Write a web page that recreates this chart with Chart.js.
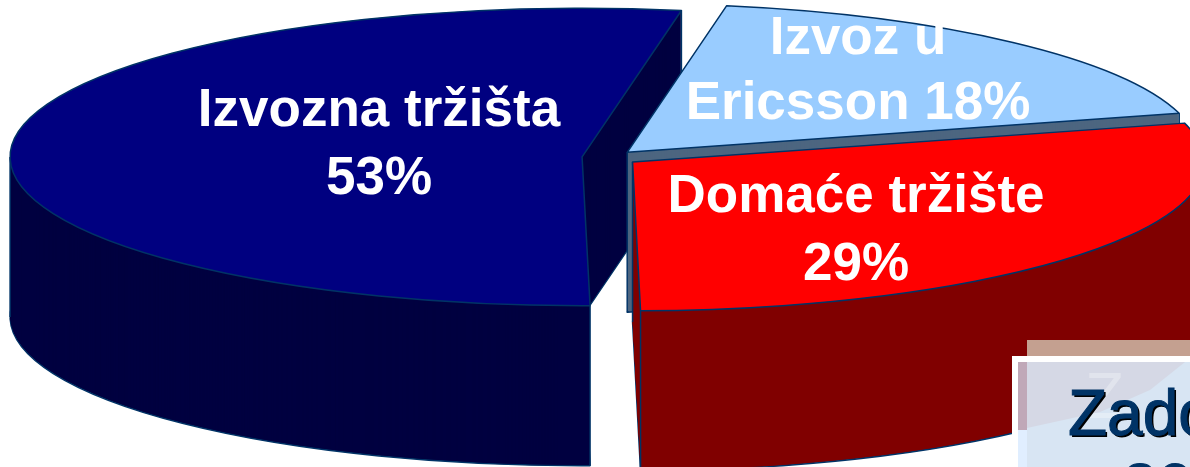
<!DOCTYPE html>
<html><head><meta charset="utf-8">
<style>html,body{margin:0;padding:0;background:#fff;overflow:hidden}#w{position:relative;width:1190px;height:467px}</style>
<script src="https://cdn.jsdelivr.net/npm/chart.js@4"></script></head>
<body><div id="w"><canvas id="c" width="1190" height="467"></canvas></div>
<script>
const categories = ['Izvoz u Ericsson', 'Domaće tržište', 'Izvozna tržišta'];
const shares = [18, 29, 53];
const sliceColors = ['#99CCFF', '#FF0000', '#000080'];
const wallColors = ['#4D6680', '#800000', '#000040'];
const labelLines = [['Izvoz u', 'Ericsson 18%'], ['Domaće tržište', '29%'], ['Izvozna tržišta', '53%']];
const labelSpots = [[858, 54, 119], [856, 212, 280], [379, 126, 194]];
const explode = [27, 29.5, 27];
const paintOrder = [2, 0, 1];
const tipEdge = [true, true, false];
const startEdge = [false, false, true];
const endEdge = [true, true, true];
const FLAT = 0.26, DEPTH = 160, EDGE = '#003366';

function sector(ctx, tx, ty, r, a0, a1) {
  ctx.beginPath();
  ctx.moveTo(tx, ty);
  ctx.ellipse(tx, ty, r, r * FLAT, 0, a0, a1);
  ctx.closePath();
}
const pie3d = {
  id: 'pie3d',
  beforeDatasetDraw(chart) {
    const ctx = chart.ctx, arcs = chart.getDatasetMeta(0).data;
    paintOrder.forEach(i => {
      const p = arcs[i].getProps(['x', 'y', 'startAngle', 'endAngle', 'outerRadius'], true);
      const mid = (p.startAngle + p.endAngle) / 2;
      const tx = p.x + Math.cos(mid) * explode[i], ty = p.y + Math.sin(mid) * explode[i] * FLAT;
      const r = p.outerRadius;
      ctx.save();
      ctx.strokeStyle = EDGE; ctx.lineWidth = 1.5; ctx.lineJoin = 'round';
      ctx.fillStyle = wallColors[i];
      sector(ctx, tx, ty + DEPTH, r, p.startAngle, p.endAngle); ctx.fill(); ctx.stroke();
      for (let d = DEPTH - 1; d > 0; d--) { sector(ctx, tx, ty + d, r, p.startAngle, p.endAngle); ctx.fill(); }
      const sx = tx + Math.cos(p.startAngle) * r, sy = ty + Math.sin(p.startAngle) * r * FLAT;
      const ex = tx + Math.cos(p.endAngle) * r, ey = ty + Math.sin(p.endAngle) * r * FLAT;
      ctx.beginPath();
      if (tipEdge[i]) { ctx.moveTo(tx, ty); ctx.lineTo(tx, ty + DEPTH); }
      if (startEdge[i]) { ctx.moveTo(sx, sy); ctx.lineTo(sx, sy + DEPTH); }
      if (endEdge[i]) { ctx.moveTo(ex, ey); ctx.lineTo(ex, ey + DEPTH); }
      if (i === 2) { ctx.moveTo(tx - r, ty); ctx.lineTo(tx - r, ty + DEPTH); }
      ctx.stroke();
      ctx.fillStyle = sliceColors[i];
      sector(ctx, tx, ty, r, p.startAngle, p.endAngle); ctx.fill(); ctx.stroke();
      ctx.restore();
    });
    return false;
  },
  afterDraw(chart) {
    const ctx = chart.ctx;
    ctx.save();
    ctx.textAlign = 'center'; ctx.textBaseline = 'alphabetic';
    ctx.fillStyle = '#fff'; ctx.font = 'bold 53px "Liberation Sans"';
    labelLines.forEach((ls, i) => {
      ls.forEach((t, k) => ctx.fillText(t, labelSpots[i][0], labelSpots[i][1 + k]));
    });
    // overlaid text box, cut off by the page edge
    ctx.fillStyle = '#C4A090'; ctx.fillRect(1027, 340, 163, 16);
    ctx.fillStyle = '#D5D8E5'; ctx.fillRect(1018, 362, 172, 105);
    ctx.fillStyle = '#C0A8B8'; ctx.fillRect(1018, 362, 9, 68);
    ctx.fillStyle = '#E0EEFF'; ctx.fillRect(1018, 430, 9, 37);
    ctx.fillStyle = '#D8E5F3';
    ctx.beginPath(); ctx.moveTo(1027, 428); ctx.lineTo(1100, 412); ctx.lineTo(1150, 390); ctx.lineTo(1190, 358); ctx.lineTo(1190, 467); ctx.lineTo(1027, 467); ctx.closePath(); ctx.fill();
    ctx.fillStyle = '#fff';
    ctx.fillRect(1012, 356, 178, 6); ctx.fillRect(1012, 356, 6, 111);
    ctx.textAlign = 'left'; ctx.font = '64px "Liberation Sans"';
    ctx.fillStyle = 'rgba(255,255,255,0.3)'; ctx.fillText('Z', 1085, 418);
    ctx.lineWidth = 1;
    [['Zadovoljni', 1068, 435], ['20', 1122, 509]].forEach(t => {
      ctx.fillStyle = '#000'; ctx.fillText(t[0], t[1] + 2, t[2] + 2);
      ctx.fillStyle = '#003366'; ctx.strokeStyle = '#003366';
      ctx.fillText(t[0], t[1], t[2]); ctx.strokeText(t[0], t[1], t[2]);
    });
    ctx.restore();
  }
};
new Chart(document.getElementById('c'), {
  type: 'pie',
  data: { labels: categories, datasets: [{ data: shares, backgroundColor: sliceColors, borderWidth: 0 }] },
  plugins: [pie3d],
  options: {
    responsive: false, animation: false, rotation: 10, radius: 572,
    layout: { padding: { left: 28, right: 0, top: 0, bottom: 152 } },
    plugins: { legend: { display: false }, tooltip: { enabled: false } }
  }
});
</script></body></html>
